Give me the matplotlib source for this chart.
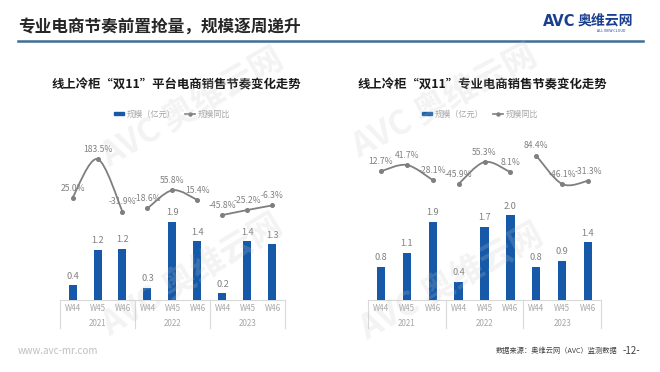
import matplotlib
matplotlib.use("Agg")
import matplotlib.pyplot as plt
from matplotlib.path import Path
from matplotlib.patches import PathPatch, Patch
from matplotlib.lines import Line2D
import matplotlib.transforms as mtransforms

plt.rcParams['font.family'] = ['Noto Sans CJK SC', 'DejaVu Sans']

# ---------------- data ----------------
weeks = ["W44", "W45", "W46"] * 3
years = ["2021", "2022", "2023"]

platform_scale = [0.36, 1.21, 1.23, 0.29, 1.89, 1.42, 0.16, 1.41, 1.34]
platform_yoy = [25.0, 183.5, -31.9, -18.6, 55.8, 15.4, -45.8, -25.2, -6.3]

pro_scale = [0.79, 1.12, 1.86, 0.43, 1.74, 2.02, 0.79, 0.93, 1.38]
pro_yoy = [12.7, 41.7, -28.1, -45.9, 55.3, 8.1, 84.4, -46.1, -31.3]

title_main = "专业电商节奏前置抢量，规模逐周递升"
title_left = "线上冷柜“双11”平台电商销售节奏变化走势"
title_right = "线上冷柜“双11”专业电商销售节奏变化走势"
legend_bar = "规模（亿元）"
legend_line = "规模同比"

BAR_C = "#1559A8"
LINE_C = "#7F7F7F"
LBL_C = "#808080"
TICK_C = "#A6A6A6"
GRID_C = "#D9D9D9"

W, H = 660, 372
fig = plt.figure(figsize=(W / 100, H / 100), dpi=100)
fig.patch.set_facecolor("white")


def fx(px):
    return px / W


def fy(py):
    return 1 - py / H


def smooth_path(xs, ys):
    pts = list(zip(xs, ys))
    n = len(pts)
    verts = [pts[0]]
    codes = [Path.MOVETO]
    for i in range(n - 1):
        p0 = pts[max(i - 1, 0)]
        p1 = pts[i]
        p2 = pts[i + 1]
        p3 = pts[min(i + 2, n - 1)]
        c1 = (p1[0] + (p2[0] - p0[0]) / 6, p1[1] + (p2[1] - p0[1]) / 6)
        c2 = (p2[0] - (p3[0] - p1[0]) / 6, p2[1] - (p3[1] - p1[1]) / 6)
        verts += [c1, c2, p2]
        codes += [Path.CURVE4] * 3
    return Path(verts, codes)


def draw_chart(left_px, right_px, scale, yoy, bar_top, line_lim, title, title_x, leg_x):
    base_px = 300
    top_px = 130
    ax = fig.add_axes([fx(left_px), fy(base_px), fx(right_px - left_px), (base_px - top_px) / H])
    ax.set_facecolor("none")
    x = list(range(len(scale)))
    ax.bar(x, scale, width=0.32, color=BAR_C, zorder=3)
    ax.set_xlim(-0.5, len(scale) - 0.5)
    ax.set_ylim(0, bar_top)
    for xi, v in zip(x, scale):
        ax.annotate(f"{v:.1f}", (xi, v), xytext=(0, 6.5), textcoords="offset points",
                    ha="center", va="center", fontsize=6.6, color=LBL_C)
    for s in ["top", "right", "left"]:
        ax.spines[s].set_visible(False)
    ax.spines["bottom"].set_color(GRID_C)
    ax.spines["bottom"].set_linewidth(0.8)
    ax.set_yticks([])
    ax.set_xticks(x)
    ax.set_xticklabels(weeks, fontsize=5.8, color=TICK_C)
    ax.tick_params(axis="x", length=0, pad=3)
    trans = mtransforms.blended_transform_factory(ax.transData, ax.transAxes)
    for g in range(4):
        ax.plot([g * 3 - 0.5, g * 3 - 0.5], [0, -28 / 170], transform=trans,
                color=GRID_C, lw=0.8, clip_on=False)
    for g, yr in enumerate(years):
        ax.text(g * 3 + 1, -24 / 170, yr, transform=trans, ha="center", va="center",
                fontsize=5.8, color=TICK_C)

    ax2 = ax.twinx()
    ax2.set_ylim(*line_lim)
    ax2.axis("off")
    for g in range(3):
        xs = x[g * 3:g * 3 + 3]
        ys = yoy[g * 3:g * 3 + 3]
        ax2.add_patch(PathPatch(smooth_path(xs, ys), fill=False, edgecolor=LINE_C,
                                lw=1.3, zorder=4))
        ax2.plot(xs, ys, "o", color=LINE_C, ms=2.6, zorder=5)
        for xi, v in zip(xs, ys):
            ax2.annotate(f"{v:.1f}%", (xi, v), xytext=(0, 7), textcoords="offset points",
                         ha="center", va="center", fontsize=6.2, color=LBL_C)

    fig.text(fx(title_x), fy(85), title, ha="center", va="center",
             fontsize=8.9, fontweight="bold", color="#1A1A1A")
    handles = [Patch(color=BAR_C),
               Line2D([0], [0], color=LINE_C, lw=1.2, marker="o", ms=2.2)]
    fig.legend(handles, [legend_bar, legend_line], loc="center left",
               bbox_to_anchor=(fx(leg_x), fy(114)), ncol=2, frameon=False,
               fontsize=5.9, labelcolor=TICK_C, handlelength=1.2, handleheight=0.35,
               handletextpad=0.3, columnspacing=1.2, borderpad=0)
    return ax


draw_chart(60, 285, platform_scale, platform_yoy, (300 - 130) / 41.5,
           (-394, 302.5), title_left, 176, 110)
draw_chart(368, 601, pro_scale, pro_yoy, (300 - 130) / 42.0,
           (-580.6, 202.8), title_right, 482, 418)

# header
fig.text(fx(18), fy(27), title_main, ha="left", va="center", fontsize=12,
         fontweight="bold", color="#262626")
fig.add_artist(Line2D([fx(18), fx(643)], [fy(41), fy(41)], color="#3E6E96", lw=1.8))
fig.text(fx(543), fy(22), "AVC", ha="left", va="center", fontsize=10.5,
         fontweight="heavy", color="#1B3F8F", family=["DejaVu Sans"])
fig.text(fx(578), fy(21), "奥维云网", ha="left", va="center", fontsize=10,
         fontweight="bold", color="#1B3F8F")
fig.text(fx(597), fy(31), "ALL VIEW CLOUD", ha="left", va="center", fontsize=2.6,
         color="#1B3F8F")

# watermarks
for cx, cy, ang in [(192, 108, 30), (192, 275, 31), (445, 102, 28), (452, 282, 29)]:
    fig.text(fx(cx), fy(cy), "AVC 奥维云网", ha="center", va="center", fontsize=24,
             fontweight="heavy", rotation=ang, rotation_mode="anchor",
             color="#C8C8C8", alpha=0.22, zorder=10)

# footer
fig.text(fx(18), fy(351), "www.avc-mr.com", ha="left", va="center", fontsize=7,
         color="#BFBFBF")
fig.text(fx(496), fy(351), "数据来源：奥维云网（AVC）监测数据", ha="left", va="center",
         fontsize=5.2, color="#404040")
fig.text(fx(623), fy(351), "-12-", ha="left", va="center", fontsize=7,
         color="#404040")

fig.savefig("out.png", dpi=100)
